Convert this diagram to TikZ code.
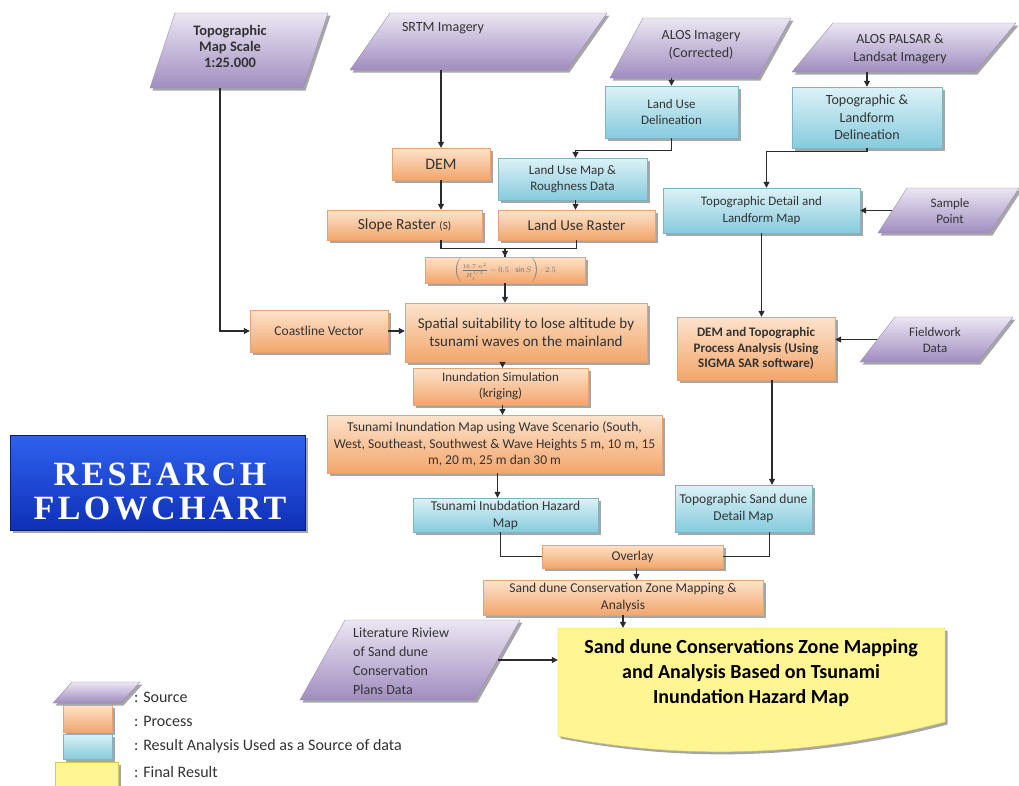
\documentclass[tikz,border=0pt]{standalone}
\usepackage{fontspec}
\setmainfont{Carlito}
\newfontfamily\titlefont[LetterSpace=10]{Liberation Serif}
\usetikzlibrary{arrows.meta,shadows}
\definecolor{or1}{HTML}{FDE3CC}
\definecolor{or2}{HTML}{F2A66C}
\definecolor{or3}{HTML}{E7A273}
\definecolor{bl1}{HTML}{DDF2F7}
\definecolor{bl2}{HTML}{86CBDD}
\definecolor{bl3}{HTML}{7DB5C6}
\definecolor{pu1}{HTML}{ECE6F3}
\definecolor{pu2}{HTML}{A08DC0}
\definecolor{pu3}{HTML}{9A89B4}
\definecolor{ye1}{HTML}{FFF592}
\definecolor{ye3}{HTML}{D8C85A}
\definecolor{tb1}{HTML}{2F62EE}
\definecolor{tb2}{HTML}{0E2FB8}
\definecolor{tb3}{HTML}{0A1E6E}
\definecolor{txt}{HTML}{333333}
\definecolor{lnc}{HTML}{2B2B2B}
\newcommand\fsz[2]{\fontsize{#1}{#2}\selectfont}
\tikzset{
 shd/.style={drop shadow={shadow xshift=2.5pt, shadow yshift=-2.5pt, opacity=0.35, fill=black}},
 proc/.style={shd, top color=or1, bottom color=or2, draw=or3, line width=0.4pt, align=center, text=txt, inner sep=1pt},
 res/.style={shd, top color=bl1, bottom color=bl2, draw=bl3, line width=0.4pt, align=center, text=txt, inner sep=1pt},
 fin/.style={shd, fill=ye1, draw=ye3, line width=0.4pt},
 srcfill/.style={shd, top color=pu1, bottom color=pu2, draw=pu3, line width=0.4pt},
 titlebox/.style={shd, top color=tb1, bottom color=tb2, draw=tb3, line width=1pt},
 lbl/.style={align=center, text=txt, inner sep=0pt},
 arr/.style={draw=lnc, line width=1.1pt, -{Triangle[length=6pt,width=6pt]}},
 ln/.style={draw=lnc, line width=1.1pt},
}
% box: name, style, x1, y1, x2, y2, text
\newcommand\bx[7]{\node[#2, minimum width={#5-#3}, minimum height={#6-#4}] (#1) at ({(#3+#5)/2},{(#4+#6)/2}) {#7};}
% source parallelogram: name, x bottom-left, x top-left, edge width, y top, y bottom
\newcommand\src[6]{\path[srcfill] (#2,#6) -- (#3,#5) -- ({#3+#4},#5) -- ({#2+#4},#6) -- cycle;
 \node[inner sep=0pt, minimum width={#4}, minimum height={#6-#5}] (#1) at ({(#2+#3)/2+#4/2},{(#5+#6)/2}) {};}
\begin{document}
\begin{tikzpicture}[x=1pt, y=-1pt]
\useasboundingbox[fill=white] (0,0) rectangle (1019,785);

% ---------- sources ----------
\src{topo}{150}{175}{153}{13}{88}
\node[lbl, font=\bfseries\fsz{14.5}{16}] (topo-t) at (230,46) {Topographic\\Map Scale\\1:25.000};
\src{srtm}{350}{390}{217}{13}{70}
\node[lbl, font=\fsz{14}{16}] (srtm-t) at (443,28) {SRTM Imagery};
\src{alos}{610}{643}{148}{18}{78}
\node[lbl, font=\fsz{14}{18}] (alos-t) at (701,45) {ALOS Imagery\\(Corrected)};
\src{palsar}{792}{833}{183}{23}{72}
\node[lbl, font=\fsz{14}{18}] (palsar-t) at (900,49) {ALOS PALSAR \&\\Landsat Imagery};
\src{sample}{878}{907}{112}{188}{233}
\node[lbl, font=\fsz{13}{15.5}] (sample-t) at (950,211) {Sample\\Point};
\src{field}{860}{895}{118}{317}{362}
\node[lbl, font=\fsz{13}{15.5}] (field-t) at (935,340) {Fieldwork\\Data};
\src{lit}{300}{345}{175}{620}{700}
\node[lbl, align=left, anchor=west, font=\fsz{14}{19}] (lit-t) at (353,661) {Literature Riview\\of Sand dune\\Conservation\\Plans Data};

% ---------- result boxes ----------
\bx{lud}{res, font=\fsz{13}{16.5}}{605}{86}{738}{138}{Land Use\\Delineation}
\bx{tld}{res, font=\fsz{14}{17.5}}{792}{87}{942}{148}{Topographic \&\\Landform\\Delineation}
\bx{lum}{res, font=\fsz{13}{16.5}}{498}{158}{647}{200}{Land Use Map \&\\Roughness Data}
\bx{tdl}{res, font=\fsz{13}{16.5}}{663}{188}{860}{233}{Topographic Detail and\\Landform Map}
\bx{haz}{res, font=\fsz{13.5}{17}}{413}{498}{598}{532}{Tsunami Inubdation Hazard\\Map}
\bx{tsd}{res, font=\fsz{13.5}{17}}{675}{485}{812}{532}{Topographic Sand dune\\Detail Map}

% ---------- process boxes ----------
\bx{dem}{proc, font=\fsz{16}{18}}{392}{148}{490}{180}{DEM}
\bx{slope}{proc, font=\fsz{15.5}{18}}{327}{210}{482}{240}{Slope Raster {\fsz{11}{13}(S)}}
\bx{lur}{proc, font=\fsz{15}{18}}{498}{210}{655}{240}{Land Use Raster}
\bx{formula}{proc, font=\fsz{8}{9}, text=black!55}{425}{257}{585}{283}{$\left(\frac{16.7\cdot n^2}{H_t^{1/3}}-0.5\cdot\sin S\right)\cdot 2.5$}
\bx{coast}{proc, font=\fsz{13.5}{16}}{250}{310}{388}{352}{Coastline Vector}
\bx{spatial}{proc, font=\fsz{15}{18}}{405}{303}{647}{362}{Spatial suitability to lose altitude by\\tsunami waves on the mainland}
\bx{insim}{proc, font=\fsz{13}{16}}{413}{368}{588}{405}{Inundation Simulation\\(kriging)}
\bx{tim}{proc, font=\fsz{13.5}{16.5}}{327}{415}{662}{473}{Tsunami Inundation Map using Wave Scenario (South,\\West, Southeast, Southwest \& Wave Heights 5 m, 10 m, 15\\m, 20 m, 25 m dan 30 m}
\bx{dtp}{proc, font=\bfseries\fsz{13}{15.5}}{677}{317}{835}{380}{DEM and Topographic\\Process Analysis (Using\\SIGMA SAR software)}
\bx{overlay}{proc, font=\fsz{13.5}{16}}{542}{545}{723}{568}{Overlay}
\bx{sdc}{proc, font=\fsz{13.5}{17}}{483}{580}{763}{615}{Sand dune Conservation Zone Mapping \&\\Analysis}

% ---------- final result ----------
\path[fin] (558,628) -- (945,628) -- (945,722) .. controls (820,755) and (690,762) .. (558,736) -- cycle;
\node[inner sep=0pt, minimum width=387, minimum height=112] (final) at (751.5,684) {};
\node[lbl, text=black, font=\bfseries\fsz{20}{25}] (final-t) at (751,673) {Sand dune Conservations Zone Mapping\\and Analysis Based on Tsunami\\Inundation Hazard Map};

% ---------- title ----------
\bx{title}{titlebox}{10}{435}{305}{530}{}
\node[text=white, font=\titlefont\bfseries\fsz{34}{34}, align=center, inner sep=0pt] (title-t) at (160,491) {RESEARCH\\FLOWCHART};

% ---------- legend ----------
\src{lgs}{53}{72}{68}{682}{703}
\bx{lgp}{proc}{63}{705}{112}{732}{}
\bx{lgr}{res}{63}{734}{112}{759}{}
\bx{lgf}{fin}{55}{762}{118}{795}{}
\node[lbl, anchor=west, font=\fsz{16}{18}] (lgs-t) at (134,697) {: Source};
\node[lbl, anchor=west, font=\fsz{16}{18}] (lgp-t) at (134,721) {: Process};
\node[lbl, anchor=west, font=\fsz{16}{18}] (lgr-t) at (134,746) {: Result Analysis Used as a Source of data};
\node[lbl, anchor=west, font=\fsz{16}{18}] (lgf-t) at (134,772) {: Final Result};

% ---------- connectors ----------
\draw[arr] (dem.north |- srtm.south) -- (dem.north);
\draw[arr] (lud.north |- alos.south) -- (lud.north);
\draw[arr] (tld.north |- palsar.south) -- (tld.north);
\draw[arr] (lud.south) -- ++(0,12) -| ([xshift=3pt]lum.north);
\draw[arr] (tld.south) -- ++(0,3) -| ([xshift=5pt]tdl.north);
\draw[arr] (dem.south) -- (dem.south |- slope.north);
\draw[arr] ([xshift=3pt]lum.south) -- ([xshift=3pt]lum.south |- lur.north);
\draw[ln] (dem.south |- slope.south) -- ++(0,8) -| (formula.north);
\draw[arr] (lur.south) -- ++(0,8) -| (formula.north);
\draw[arr] (formula.south) -- (formula.south |- spatial.north);
\draw[arr] ([xshift=-19pt]topo.south) |- (coast.west);
\draw[arr] (coast.east) -- (coast.east -| spatial.west);
\draw[arr] ([xshift=2pt]insim.north |- spatial.south) -- ([xshift=2pt]insim.north);
\draw[arr] ([xshift=2pt]insim.south) -- ([xshift=2pt]insim.south |- tim.north);
\draw[arr] ([xshift=3pt]tim.south) -- ([xshift=3pt]tim.south |- haz.north);
\draw[ln] ([xshift=-5pt]haz.south) |- (overlay.west);
\draw[ln] ([xshift=26pt]tsd.south) |- (overlay.east);
\draw[arr] (sample.west) -- (sample.west -| tdl.east);
\draw[arr] (tdl.south) -- (tdl.south |- dtp.north);
\draw[arr] (field.west) -- (field.west -| dtp.east);
\draw[arr] ([xshift=16pt]dtp.south) -- ([xshift=16pt]dtp.south |- tsd.north);
\draw[arr] ([xshift=4pt]overlay.south) -- ([xshift=4pt]overlay.south |- sdc.north);
\draw[arr] (sdc.south) -- (sdc.south |- final.north);
\draw[arr] (lit.east) -- (lit.east -| final.west);
\end{tikzpicture}
\end{document}
